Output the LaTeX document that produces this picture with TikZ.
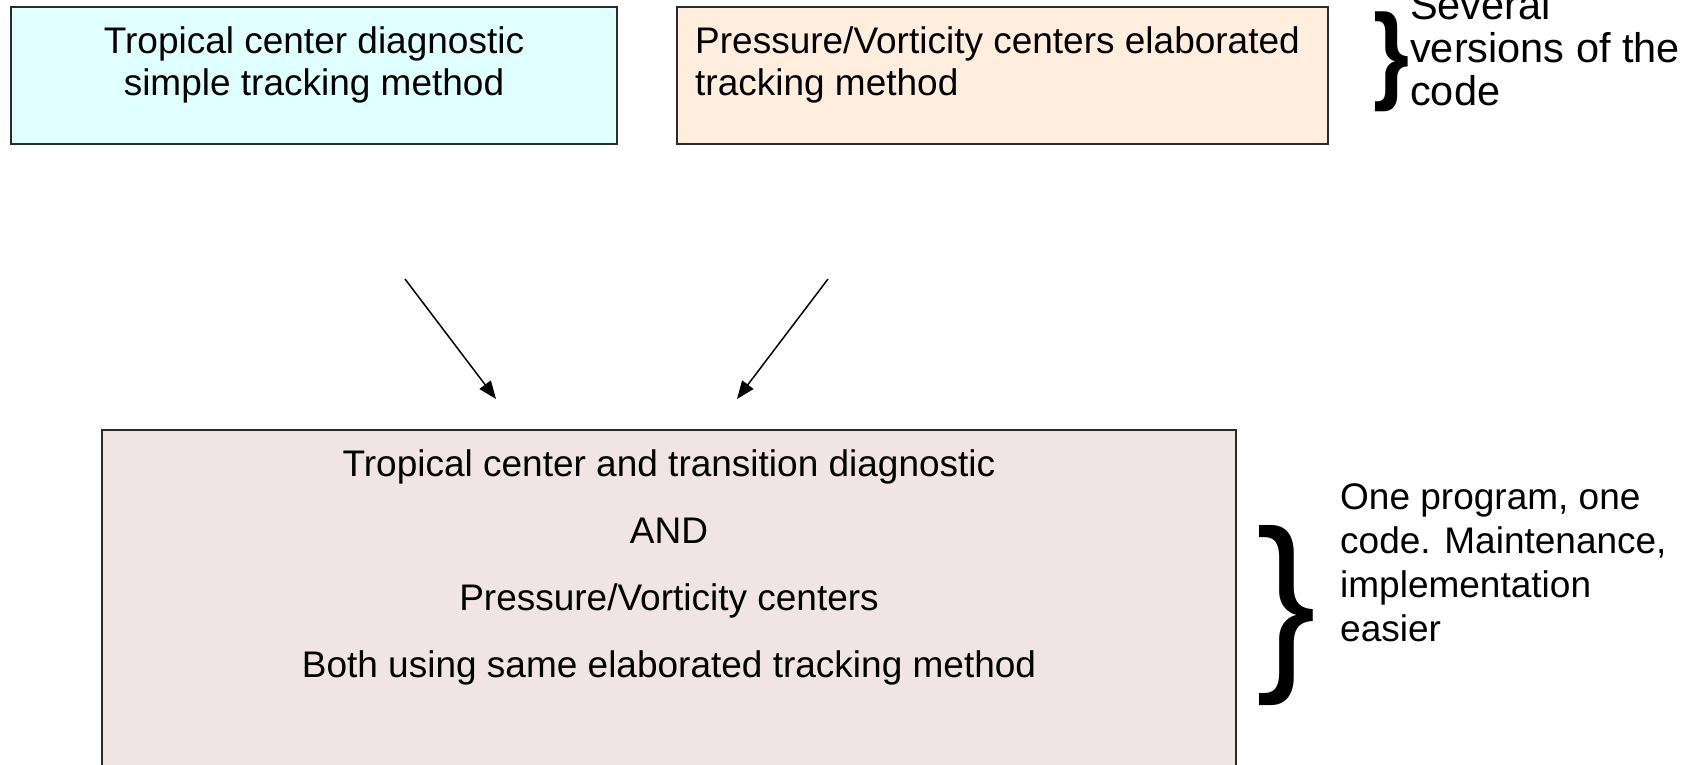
\documentclass[tikz,border=0pt]{standalone}
\usepackage{fontspec}
\setmainfont{Liberation Sans}
\usetikzlibrary{arrows.meta}
\definecolor{cyanfill}{HTML}{E0FFFF}
\definecolor{peachfill}{HTML}{FFEDDE}
\definecolor{rosefill}{HTML}{F1E4E4}
\definecolor{edge}{HTML}{2B2B2B}
\begin{document}
\begin{tikzpicture}[x=1pt,y=-1pt,
  panel/.style={draw=edge,line width=1.6pt,inner sep=0pt,outer sep=0pt},
  body/.style={font=\fontsize{37}{42}\selectfont,inner sep=0pt},
  note/.style={font=\fontsize{37}{44}\selectfont,inner sep=0pt,align=left},
  flow/.style={line width=1.5pt,-{Triangle[length=18pt,width=14pt]}}
]
\useasboundingbox (0,0) rectangle (1690,764);
\clip (0,0) rectangle (1690,764);

% upper panels: the two separate tracking codes
% (text nodes are anchored at the baseline of their last line)
\node[panel,fill=cyanfill,minimum width=606pt,minimum height=137pt,anchor=north west] (simple) at (11,7) {};
\node[body,align=center,anchor=base] (simpletxt) at (314,95) {Tropical center diagnostic\\simple tracking method};

\node[panel,fill=peachfill,minimum width=651pt,minimum height=137pt,anchor=north west] (elab) at (677,7) {};
\node[body,align=left,anchor=base west] (elabtxt) at (695,95) {Pressure/Vorticity centers elaborated\\tracking method};

% brace and remark for the upper panels
\node[inner sep=0pt,anchor=north west] (brace1) at (1373,12) {\resizebox*{36pt}{100pt}{\bfseries\}}};
\node[note,font=\fontsize{41.5}{43}\selectfont,anchor=base west] (several) at (1410,105) {Several\\versions of the\\code};

% arrows converging on the merged program
\coordinate (l0) at (405,279);
\coordinate (l1) at (496,399);
\coordinate (r0) at (828,279);
\coordinate (r1) at (737,399);
\draw[flow] (l0) -- (l1);
\draw[flow] (r0) -- (r1);

% lower panel: the merged program
\node[panel,fill=rosefill,minimum width=1134pt,minimum height=400pt,anchor=north west] (merged) at (102,430) {};
\node[body,font=\fontsize{37}{66.7}\selectfont,align=center,anchor=base] (mergedtxt) at (669,677)
  {Tropical center and transition diagnostic\\AND\\Pressure/Vorticity centers\\Both using same elaborated tracking method};

% brace and remark for the merged program
\node[inner sep=0pt,anchor=north west] (brace2) at (1256,525) {\resizebox*{60pt}{180pt}{\}}};
\node[note,anchor=base west] (oneprog) at (1340,641) {One program, one\\code. Maintenance,\\implementation\\easier};
\end{tikzpicture}
\end{document}
